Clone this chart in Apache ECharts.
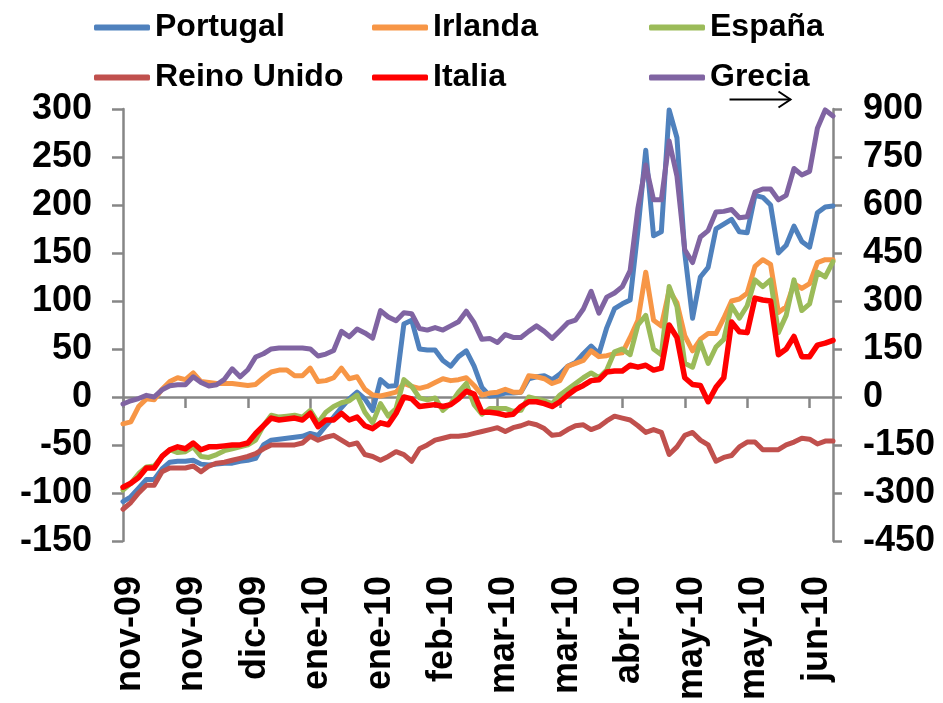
<!DOCTYPE html>
<html>
<head>
<meta charset="utf-8"/>
<title>Diferenciales soberanos</title>
<script src="https://cdn.jsdelivr.net/npm/echarts@6/dist/echarts.min.js"></script>
<style>
html,body{margin:0;padding:0;background:#fff;}
#div_charts{width:943px;height:703px;}
</style>
</head>
<body>
<div id="div_charts"></div>
<script>
// etiquetas del eje x (una cada 8 observaciones)
var tickLabels = ['nov-09','nov-09','dic-09','ene-10','ene-10','feb-10','mar-10','mar-10','abr-10','may-10','may-10','jun-10'];
var paso = 8;

// eje izquierdo
var portugal = [-109,-104,-95,-86,-86,-75,-68,-67,-67,-66,
  -70,-71,-70,-69,-69,-67,-66,-64,-50,-45,
  -44,-43,-42,-41,-38,-40,-30,-21,-11,-2,
  5,-2,-14,18,11,12,76,80,50,49,
  49,38,32,42,48,32,10,1,2,4,
  4,5,19,21,22,18,24,32,36,45,
  53,45,72,92,97,101,174,257,168,172,
  299,270,150,82,125,135,175,180,185,172,
  171,210,208,200,150,158,178,162,156,192,
  198,199];
var irlanda = [-28,-26,-10,-2,-3,8,16,20,18,25,
  16,15,14,14,14,13,12,13,20,26,
  28,28,22,22,30,16,17,20,30,19,
  21,8,2,1,3,5,14,11,9,11,
  15,19,17,18,20,12,2,4,5,8,
  5,5,22,21,19,14,17,32,35,38,
  48,42,43,45,46,62,80,130,80,74,
  111,98,64,48,60,66,66,82,100,102,
  108,136,143,138,88,94,118,113,118,140,
  143,143];
var espana = [-97,-90,-80,-73,-72,-62,-55,-58,-57,-52,
  -62,-63,-60,-56,-54,-52,-50,-45,-30,-19,
  -21,-20,-19,-21,-14,-27,-16,-10,-6,-4,
  2,-16,-27,-7,-20,-12,18,11,-1,-3,
  -1,-14,-7,5,14,-8,-18,-12,-12,-12,
  -15,-14,0,-2,-4,-7,2,8,14,20,
  25,20,28,47,50,44,75,85,50,44,
  115,94,35,31,57,35,52,60,95,82,
  95,122,115,122,67,85,122,90,97,130,
  125,141];
var reinoUnido = [-117,-110,-100,-92,-92,-78,-74,-74,-74,-72,
  -78,-72,-69,-68,-66,-64,-62,-59,-54,-50,
  -50,-50,-50,-48,-41,-45,-42,-40,-45,-50,
  -48,-60,-62,-66,-62,-57,-60,-67,-54,-50,
  -45,-43,-41,-41,-40,-38,-36,-34,-32,-36,
  -32,-30,-27,-29,-33,-40,-39,-34,-30,-29,
  -34,-31,-25,-20,-22,-24,-30,-37,-34,-37,
  -60,-52,-40,-37,-45,-50,-67,-63,-61,-52,
  -47,-47,-55,-55,-55,-50,-47,-43,-44,-49,
  -46,-46];
var italia = [-94,-90,-84,-74,-74,-62,-55,-52,-54,-48,
  -55,-52,-52,-51,-50,-50,-48,-38,-30,-22,
  -24,-23,-22,-24,-17,-31,-24,-24,-17,-24,
  -21,-30,-33,-27,-29,-17,0,-2,-10,-9,
  -8,-10,-8,-2,6,3,-16,-16,-17,-19,
  -18,-10,-5,-5,-7,-10,-5,2,8,12,
  17,18,26,27,27,33,31,33,28,30,
  75,62,20,13,12,-5,10,20,78,68,
  67,103,101,100,44,50,63,42,42,54,
  56,59];
// eje derecho
var grecia = [-22,-12,-5,5,0,22,35,38,38,63,
  45,34,38,55,88,63,85,125,135,150,
  153,153,153,153,150,128,134,145,205,188,
  212,200,184,270,250,238,263,260,214,209,
  217,209,222,235,268,232,180,183,170,195,
  186,186,205,222,205,183,207,232,240,275,
  330,262,312,325,345,395,590,725,616,616,
  800,690,460,420,500,520,578,580,586,560,
  563,640,650,650,616,630,714,694,705,840,
  897,878];

var dias = [];
for (var i = 0; i < portugal.length; i++) { dias.push(i); }

var fuente = "'Liberation Sans', Arial, sans-serif";
var gris = '#868686';

function serie(nombre, datos, color, ancho, eje) {
  return {
    name: nombre, type: 'line', data: datos, yAxisIndex: eje || 0,
    symbol: 'none', color: color,
    lineStyle: { color: color, width: ancho, cap: 'round', join: 'round' },
    itemStyle: { color: color }
  };
}

function leyenda(items, x) {
  return {
    data: items, left: x, top: 5, orient: 'vertical',
    itemGap: 15, itemWidth: 56, itemHeight: 6, icon: 'roundRect',
    textStyle: { fontSize: 32, fontWeight: 'bold', fontFamily: fuente, color: '#000', lineHeight: 35 }
  };
}

var myChart = echarts.init(document.getElementById('div_charts'));
var option = {
  animation: false,
  backgroundColor: '#fff',
  legend: [
    leyenda(['Portugal', 'Reino Unido'], 89),
    leyenda(['Irlanda', 'Italia'], 367),
    leyenda(['España', 'Grecia'], 644)
  ],
  grid: { left: 123, right: 110, top: 109, bottom: 162 },
  xAxis: [
    {
      type: 'category', data: dias, boundaryGap: false,
      axisLine: { onZero: true, lineStyle: { color: gris, width: 2.5 } },
      axisTick: { show: true, interval: paso - 1, length: 11, lineStyle: { color: gris, width: 2.5 } },
      axisLabel: { show: false },
      splitLine: { show: false }
    },
    {
      type: 'category', data: dias, boundaryGap: false, position: 'bottom',
      axisLine: { show: false, onZero: false },
      axisTick: { show: false },
      axisLabel: {
        interval: paso - 1, rotate: 90, margin: 35,
        fontSize: 36, fontWeight: 'bold', fontFamily: fuente, color: '#000',
        verticalAlign: 'top', lineHeight: 14,
        formatter: function (v, idx) { return tickLabels[idx / paso] || ''; }
      },
      splitLine: { show: false }
    }
  ],
  yAxis: [
    {
      type: 'value', min: -150, max: 300, interval: 50, position: 'left',
      axisLine: { show: true, onZero: false, lineStyle: { color: gris, width: 2.5 } },
      axisTick: { show: true, length: 11, lineStyle: { color: gris, width: 2.5 } },
      axisLabel: { margin: 31, fontSize: 36, fontWeight: 'bold', fontFamily: fuente, color: '#000' },
      splitLine: { show: false }
    },
    {
      type: 'value', min: -450, max: 900, interval: 150, position: 'right',
      axisLine: { show: true, onZero: false, lineStyle: { color: gris, width: 2.5 } },
      axisTick: { show: true, length: 9, lineStyle: { color: gris, width: 2.5 } },
      axisLabel: { margin: 30, fontSize: 36, fontWeight: 'bold', fontFamily: fuente, color: '#000' },
      splitLine: { show: false }
    }
  ],
  series: [
    serie('Portugal', portugal, '#4F81BD', 5),
    serie('Irlanda', irlanda, '#F79646', 5),
    serie('España', espana, '#9BBB59', 5),
    serie('Reino Unido', reinoUnido, '#C0504D', 5),
    serie('Italia', italia, '#FF0000', 5.5),
    serie('Grecia', grecia, '#8064A2', 5, 1)
  ],
  graphic: [
    {
      type: 'group', left: 727, top: 89,
      children: [
        { type: 'line', shape: { x1: 0, y1: 8, x2: 61, y2: 8 }, style: { stroke: '#000', lineWidth: 2 } },
        { type: 'polyline', shape: { points: [[49, 0], [61, 8], [49, 16]] }, style: { stroke: '#000', lineWidth: 2, fill: null } }
      ]
    }
  ]
};
myChart.setOption(option);
</script>
</body>
</html>
